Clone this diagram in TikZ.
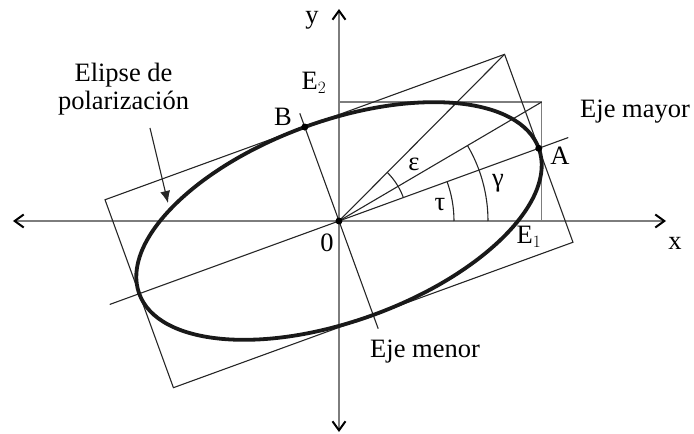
\documentclass[tikz,border=0pt]{standalone}
\usepackage{fontspec}
\setmainfont{Liberation Serif}
\usetikzlibrary{arrows.meta,calc}
\definecolor{axgray}{RGB}{125,125,125}
\tikzset{
  axis/.style={draw=axgray,line width=1.7pt,
    {Straight Barb[length=9pt,width=13pt,line width=2pt,color=black]}-{Straight Barb[length=9pt,width=13pt,line width=2pt,color=black]}},
  thinline/.style={draw=black!85,line width=1.1pt},
  boxline/.style={draw=axgray,line width=1.3pt},
  ellipseline/.style={draw=black!90,line width=3.8pt},
  lbl/.style={font=\fontsize{26.5}{28}\selectfont,inner sep=0pt},
  dot/.style={circle,fill=black,inner sep=0pt,minimum size=7pt}
}
\begin{document}
\begin{tikzpicture}[x=1pt,y=1pt]
\useasboundingbox (-339,-213) rectangle (355,221);
% key coordinates
\coordinate (O) at (0,0);
\coordinate (xl) at (-326,0);
\coordinate (xr) at (327,0);
\coordinate (yb) at (0,-211);
\coordinate (yt) at (0,212);
\coordinate (E1) at (202.7,0);
\coordinate (E2) at (0,119);
\coordinate (EC) at (202.7,119);
\coordinate (Apt) at (20:212.6);
\coordinate (Bpt) at (110:100);
\coordinate (majR) at (20:244);
\coordinate (majL) at (200:244);
\coordinate (minT) at (110:114.6);
\coordinate (minB) at (290:114.6);
\coordinate (R1) at ($(20:212.6)+(110:100)$);
\coordinate (R2) at ($(200:212.6)+(110:100)$);
\coordinate (R3) at ($(200:212.6)+(290:100)$);
\coordinate (R4) at ($(20:212.6)+(290:100)$);
% axes
\draw[axis] (xl) -- (xr);
\draw[axis] (yb) -- (yt);
% E box
\draw[boxline] (E2) -- (EC) -- (E1);
% rotated rectangle
\draw[thinline] (R1) -- (R2) -- (R3) -- (R4) -- cycle;
% axes of ellipse and diagonals
\draw[thinline] (majL) -- (majR);
\draw[thinline] (minT) -- (minB);
\draw[thinline] (O) -- (R1);
\draw[thinline] (O) -- (EC);
% angle arcs
\draw[thinline] ([shift={(0:115)}]O) arc[start angle=0,end angle=20,radius=115];
\draw[thinline] ([shift={(0:149)}]O) arc[start angle=0,end angle=30.42,radius=149];
\draw[thinline] ([shift={(20:68.5)}]O) arc[start angle=20,end angle=45.19,radius=68.5];
% ellipse
\draw[ellipseline,rotate=20] (O) ellipse[x radius=212.6,y radius=100];
% dots
\node[dot] (Od) at (O) {};
\node[dot] (Ad) at (Apt) {};
\node[dot] (Bd) at (Bpt) {};
% labels
\node[lbl] (ylab) at (-27,201) {y};
\node[lbl] (xlab) at (336,-22) {x};
\node[lbl] (E2lab) at (-25,138) {E$_2$};
\node[lbl] (E1lab) at (190,-16) {E$_1$};
\node[lbl] (Blab) at (-56,104) {B};
\node[lbl] (Alab) at (221,65) {A};
\node[lbl] (zero) at (-12,-22) {0};
\node[lbl,anchor=west] (mayor) at (241,109) {Eje mayor};
\node[lbl,anchor=west] (menor) at (31,-131) {Eje menor};
\node[lbl,align=center] (elip) at (-215.5,132) {Elipse de\\polarización};
\node[lbl] (tau) at (101,16) {τ};
\node[lbl] (gam) at (159,38) {γ};
\node[lbl] (eps) at (75,57) {ε};
% annotation arrow
\coordinate (annS) at (-189,93);
\coordinate (annE) at (-171,18);
\draw[thinline,-{Latex[length=12pt,width=10pt]}] (annS) -- (annE);
\end{tikzpicture}
\end{document}
